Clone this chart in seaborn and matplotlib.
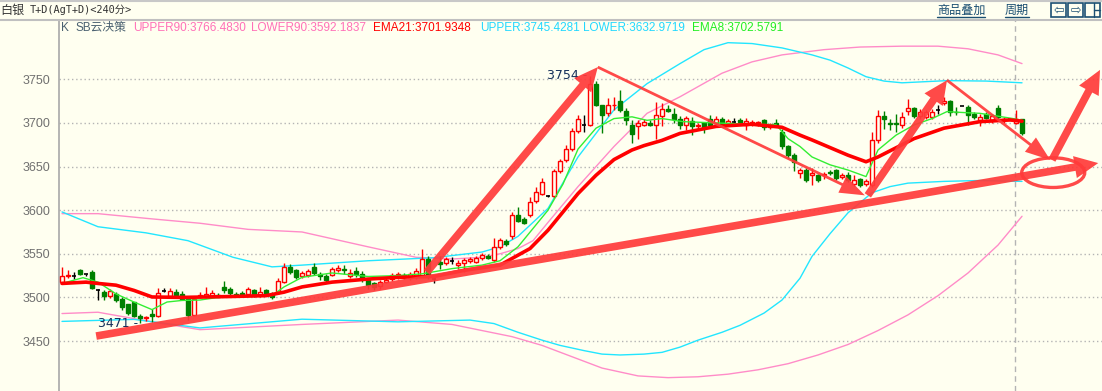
import numpy as np
import seaborn as sns
import matplotlib.pyplot as plt
from matplotlib.patches import Ellipse, Rectangle
from matplotlib.lines import Line2D

# ---- candle data (240 min bars) ----
opens = [3518, 3524, 3525, 3531, 3527, 3529, 3508, 3506, 3502, 3504,
         3498, 3492, 3495, 3479, 3476, 3481, 3479, 3507, 3502, 3506,
         3504, 3498, 3480, 3500, 3500, 3502, 3503, 3512, 3510, 3504,
         3505, 3504, 3509, 3503, 3508, 3504, 3506, 3518, 3535, 3531,
         3524, 3526, 3535, 3527, 3525, 3526, 3531, 3533, 3525, 3530,
         3527, 3520, 3516, 3513, 3518, 3521, 3523, 3526, 3522, 3525,
         3525, 3544, 3521, 3541, 3539, 3542, 3537, 3539, 3542, 3541,
         3545, 3548, 3543, 3558, 3565, 3570, 3595, 3590, 3594, 3610,
         3619, 3616, 3616, 3645, 3658, 3670, 3691, 3698, 3698, 3745,
         3721, 3711, 3720, 3725, 3714, 3698, 3696, 3698, 3700, 3698,
         3708, 3716, 3710, 3705, 3698, 3702, 3696, 3700, 3705, 3700,
         3705, 3698, 3701, 3703, 3698, 3699, 3700, 3703, 3695, 3700,
         3690, 3673, 3663, 3643, 3646, 3640, 3640, 3640, 3644, 3646,
         3638, 3640, 3630, 3636, 3630, 3629, 3681, 3708, 3700, 3700,
         3698, 3714, 3717, 3708, 3707, 3707, 3715, 3723, 3725, 3713,
         3719, 3718, 3710, 3703, 3710, 3703, 3717, 3703, 3704, 3700,
         3704]
highs = [3535, 3531, 3529, 3532, 3527, 3531, 3510, 3508, 3510, 3506,
         3500, 3493, 3495, 3481, 3479, 3487, 3511, 3511, 3511, 3510,
         3507, 3500, 3502, 3506, 3512, 3509, 3505, 3519, 3512, 3506,
         3507, 3512, 3510, 3512, 3510, 3506, 3522, 3539, 3538, 3533,
         3530, 3533, 3540, 3529, 3527, 3535, 3537, 3537, 3533, 3535,
         3530, 3522, 3518, 3520, 3522, 3528, 3529, 3528, 3529, 3534,
         3555, 3548, 3523, 3547, 3546, 3546, 3543, 3545, 3546, 3548,
         3551, 3550, 3568, 3568, 3567, 3598, 3604, 3592, 3615, 3626,
         3637, 3617, 3647, 3659, 3675, 3694, 3709, 3709, 3754, 3748,
         3721, 3729, 3730, 3738, 3717, 3703, 3703, 3705, 3703, 3724,
         3723, 3721, 3717, 3708, 3708, 3707, 3700, 3701, 3709, 3708,
         3707, 3704, 3706, 3706, 3706, 3703, 3702, 3705, 3700, 3705,
         3693, 3675, 3665, 3648, 3648, 3648, 3642, 3644, 3646, 3647,
         3643, 3644, 3640, 3637, 3636, 3690, 3715, 3714, 3705, 3710,
         3712, 3728, 3718, 3716, 3715, 3716, 3720, 3730, 3726, 3718,
         3719, 3720, 3712, 3710, 3712, 3710, 3720, 3707, 3704, 3715,
         3705]
lows = [3516, 3522, 3521, 3526, 3524, 3510, 3497, 3497, 3499, 3495,
        3485, 3480, 3477, 3471, 3473, 3472, 3478, 3506, 3500, 3501,
        3497, 3474, 3479, 3499, 3499, 3500, 3500, 3505, 3503, 3500,
        3500, 3502, 3501, 3500, 3502, 3498, 3504, 3517, 3527, 3521,
        3522, 3523, 3526, 3520, 3518, 3524, 3529, 3527, 3522, 3523,
        3518, 3510, 3509, 3510, 3516, 3519, 3521, 3521, 3520, 3521,
        3523, 3521, 3516, 3533, 3537, 3538, 3532, 3529, 3540, 3539,
        3543, 3544, 3541, 3555, 3559, 3567, 3586, 3584, 3592, 3608,
        3617, 3615, 3614, 3643, 3655, 3668, 3689, 3690, 3696, 3719,
        3688, 3708, 3715, 3713, 3698, 3677, 3682, 3696, 3696, 3682,
        3696, 3712, 3700, 3693, 3692, 3686, 3693, 3689, 3695, 3698,
        3696, 3696, 3697, 3699, 3692, 3696, 3697, 3692, 3693, 3697,
        3670, 3660, 3645, 3637, 3632, 3629, 3632, 3636, 3640, 3635,
        3636, 3632, 3628, 3627, 3628, 3627, 3677, 3693, 3692, 3690,
        3694, 3709, 3706, 3705, 3705, 3704, 3710, 3721, 3708, 3709,
        3719, 3698, 3705, 3697, 3704, 3700, 3705, 3700, 3704, 3699,
        3686]
closes = [3525, 3526, 3525, 3527, 3527, 3511, 3508, 3502, 3507, 3497,
          3489, 3482, 3479, 3476, 3478, 3479, 3505, 3507, 3507, 3503,
          3498, 3480, 3498, 3503, 3504, 3505, 3501, 3509, 3505, 3502,
          3502, 3510, 3503, 3506, 3504, 3500, 3519, 3535, 3529, 3523,
          3528, 3530, 3528, 3524, 3520, 3532, 3534, 3531, 3528, 3527,
          3521, 3514, 3512, 3518, 3520, 3526, 3527, 3523, 3527, 3530,
          3544, 3525, 3521, 3538, 3544, 3542, 3540, 3543, 3544, 3545,
          3549, 3545, 3558, 3566, 3561, 3595, 3588, 3585, 3609, 3621,
          3632, 3616, 3645, 3656, 3670, 3691, 3705, 3698, 3745, 3721,
          3709, 3720, 3721, 3715, 3703, 3687, 3700, 3701, 3698, 3709,
          3716, 3714, 3705, 3698, 3706, 3697, 3698, 3694, 3698, 3705,
          3698, 3702, 3701, 3701, 3702, 3701, 3701, 3695, 3698, 3698,
          3673, 3663, 3655, 3646, 3635, 3643, 3635, 3642, 3643, 3637,
          3640, 3635, 3635, 3629, 3634, 3680, 3708, 3705, 3699, 3699,
          3707, 3717, 3708, 3713, 3712, 3713, 3715, 3725, 3713, 3712,
          3719, 3709, 3707, 3707, 3706, 3708, 3707, 3705, 3704, 3704,
          3689]

# ---- indicator lines, sampled at bar positions ----
ema21_x = [0, 4, 6, 9, 12, 15, 20, 28, 34, 37, 40, 45, 51, 56, 62, 67, 73, 78, 81,
           86, 89, 92, 95, 97, 100, 103, 109, 115, 120, 123, 125, 131, 134, 136,
           142, 147, 153, 158, 160]
ema21_v = [3516, 3517.5, 3516, 3514, 3508, 3500.5, 3500, 3501, 3502, 3506, 3512,
           3517.5, 3521, 3523, 3524, 3531, 3537, 3556, 3577, 3619, 3640, 3658,
           3669, 3674, 3680, 3688, 3696, 3698.5, 3695, 3686, 3680.5, 3663, 3655.5,
           3661, 3682, 3694, 3701.5, 3703.4, 3702]
ema8_x = [0, 3.5, 6, 9, 12, 15, 17.5, 20, 23, 26, 31, 35, 37, 40, 45, 51, 56, 60,
          65, 70, 73, 76, 78.5, 81, 83.5, 86, 89, 92, 95, 97.5, 100, 103.5, 109,
          115, 119, 121, 123, 125, 128, 131, 134, 136, 139, 142, 145, 147.5, 150,
          153, 158.5, 160]
ema8_v = [3516, 3522.6, 3517.5, 3504, 3494.7, 3486, 3494.7, 3496.5, 3497, 3500,
          3502, 3502, 3512, 3523, 3528, 3524, 3525, 3527, 3533, 3537, 3542, 3558,
          3579, 3600, 3630, 3670, 3694, 3705, 3707, 3703, 3705, 3701.5, 3700,
          3698.5, 3698, 3682, 3673, 3661, 3652, 3646, 3638.5, 3669, 3686, 3697.7,
          3705, 3713, 3712, 3711, 3705, 3703]
upper_x = [0, 6, 14, 21, 28.5, 35, 40, 51, 62, 70, 73, 76, 78.5, 81, 86, 92, 97.5,
           103, 107, 111, 115, 120, 125, 128, 131, 134, 137, 140, 147.5, 154, 160]
upper_v = [3598, 3581, 3574, 3565, 3546, 3535, 3537, 3542, 3545.5, 3552, 3558,
           3570, 3586, 3602, 3661, 3715, 3745, 3768, 3784, 3792, 3791, 3786, 3778,
           3772, 3763, 3753, 3748, 3746, 3748.5, 3748, 3746]
lower_x = [0, 12, 23, 40, 56, 68, 72, 76, 80, 83, 87, 90, 93, 97, 100, 103, 106,
           110, 113, 117, 120, 123, 125, 128, 131, 135, 138, 141, 147, 153, 160]
lower_v = [3472.5, 3474.8, 3465, 3475, 3472, 3474, 3470, 3460, 3451, 3445, 3439,
           3435, 3434, 3435, 3437, 3443, 3451, 3460, 3468, 3482, 3497, 3522, 3547,
           3573, 3597, 3620, 3627, 3631, 3633, 3634, 3633]
upper90_x = [0, 6, 15, 23, 31, 40, 51, 59, 65, 70, 73, 76, 78.5, 81, 86, 92, 97.5,
             103, 110, 115, 120, 127, 133, 140, 146, 151, 156, 160]
upper90_v = [3596, 3596, 3590, 3585, 3578, 3575, 3558, 3546, 3544, 3546, 3550,
             3556, 3565, 3586, 3627, 3673, 3711, 3730, 3757, 3770, 3778, 3784,
             3787, 3788, 3788, 3785, 3778, 3768]
lower90_x = [0, 6, 15, 23, 40, 56, 65, 70, 75, 80, 85, 90, 96, 101, 106, 111, 116,
             121, 126, 131, 136, 141, 146, 151, 156, 160]
lower90_v = [3481.5, 3483, 3472, 3463, 3469, 3474, 3469, 3462, 3455, 3445, 3432,
             3419, 3410, 3408, 3409, 3412, 3417, 3424, 3434, 3446, 3462, 3480,
             3502, 3528, 3560, 3593]

yticks = [3450, 3500, 3550, 3600, 3650, 3700, 3750]

BG = '#fffff0'
RED = '#ff0000'
GREEN = '#008000'
ARROW = '#ff3a3a'

sns.set_theme(style="white")
plt.rcParams['font.family'] = ['Liberation Sans', 'Noto Sans CJK SC', 'DejaVu Sans']

W, H = 1102, 391
fig = plt.figure(figsize=(W / 100, H / 100), dpi=100, facecolor=BG)
ax = fig.add_axes([59 / W, 0, 1 - 59 / W, (H - 20) / H])
ax.set_facecolor(BG)
ax.set_xlim(-0.5, 173.33)
ax.set_ylim(3392.7, 3818)

# grid + axis
for v in yticks:
    ax.axhline(v, color='#b4b4b4', lw=1, ls=(0, (1, 2)), zorder=0)
ax.axvline(158.75, color='#b4b4b4', lw=1, ls=(0, (4, 3)), zorder=0)
for s in ['top', 'right', 'bottom']:
    ax.spines[s].set_visible(False)
ax.spines['left'].set_color('#a8a8a8')
ax.spines['left'].set_linewidth(1.2)
ax.set_xticks([])
ax.set_yticks(yticks)
ax.set_yticklabels([str(v) for v in yticks])
ax.tick_params(axis='y', length=0, pad=6, labelsize=9, labelcolor='#707070')

# bands and moving averages
sns.lineplot(x=upper90_x, y=upper90_v, ax=ax, color='#ff8cc8', lw=1, zorder=2)
sns.lineplot(x=lower90_x, y=lower90_v, ax=ax, color='#ff8cc8', lw=1, zorder=2)
sns.lineplot(x=upper_x, y=upper_v, ax=ax, color='#22e6ff', lw=1, zorder=2)
sns.lineplot(x=lower_x, y=lower_v, ax=ax, color='#22e6ff', lw=1, zorder=2)

# candles
idx = np.arange(len(opens))
o = np.array(opens); c = np.array(closes); hi = np.array(highs); lo = np.array(lows)
up = c > o
dn = c < o
dj = c == o
bw = 0.78
ax.vlines(idx[up], lo[up], hi[up], color=RED, lw=1, zorder=3)
ax.vlines(idx[dn], lo[dn], hi[dn], color=GREEN, lw=1, zorder=3)
ax.vlines(idx[dj], lo[dj], hi[dj], color='black', lw=1, zorder=3)
ax.bar(idx[up], c[up] - o[up], bottom=o[up], width=bw, facecolor=BG,
       edgecolor=RED, lw=1, zorder=4)
ax.bar(idx[dn], o[dn] - c[dn], bottom=c[dn], width=bw, facecolor=GREEN,
       edgecolor=GREEN, lw=1, zorder=4)
ax.hlines(c[dj], idx[dj] - bw / 2, idx[dj] + bw / 2, color='black', lw=1.2, zorder=4)

sns.lineplot(x=ema8_x, y=ema8_v, ax=ax, color='#33ee33', lw=1, zorder=5)
sns.lineplot(x=ema21_x, y=ema21_v, ax=ax, color=RED, lw=2.6, zorder=5)

# extreme labels
ax.text(87.6, 3754, '3754 -', ha='right', va='center', fontsize=9,
        color='#15305a', family='DejaVu Sans', zorder=6)
ax.text(12.7, 3470, '3471 -', ha='right', va='center', fontsize=9,
        color='#15305a', family='DejaVu Sans', zorder=6)

# hand drawn arrows
fat = 'simple,head_length=1.7,head_width=1.6,tail_width=0.55'
thin = 'simple,head_length=1.8,head_width=1.3,tail_width=0.2'
arrows = [((5.7, 3455.7), (172.7, 3654), fat),
          ((60.8, 3529), (89.3, 3764), fat),
          ((89.3, 3764), (133.8, 3617), thin),
          ((134.3, 3617), (147.5, 3749), fat),
          ((147.5, 3749), (164.7, 3657.6), thin),
          ((165.0, 3657.6), (173.0, 3760.8), fat)]
for start, end, style in arrows:
    ax.annotate('', xy=end, xytext=start,
                arrowprops=dict(arrowstyle=style, mutation_scale=10, color=ARROW,
                                alpha=0.92, shrinkA=0, shrinkB=0, lw=0),
                zorder=7, annotation_clip=False)
ax.add_patch(Ellipse((165.2, 3643), 10.5, 34, fill=False, edgecolor=ARROW,
                     lw=2.4, alpha=0.92, zorder=7))

# legend line
cjk = ['Noto Sans CJK SC', 'DejaVu Sans']
legend_items = [(61, 'K', '#4a6070'), (75, 'SB云决策', '#4a6070'),
                (133, 'UPPER90:3766.4830', '#ff70b8'),
                (251, 'LOWER90:3592.1837', '#ff70b8'),
                (373, 'EMA21:3701.9348', '#ff0000'),
                (480, 'UPPER:3745.4281', '#22d8ff'),
                (583, 'LOWER:3632.9719', '#22d8ff'),
                (692, 'EMA8:3702.5791', '#22ee22')]
for px, txt, col in legend_items:
    fig.text(px / W, 1 - 28 / H, txt, color=col, fontsize=8.5, va='center',
             ha='left', family=['Liberation Sans', 'Noto Sans CJK SC'])

# header bar
fig.add_artist(Line2D([0, 1], [1 - 19.5 / H] * 2, color='#c0c0c0', lw=1.5))
fig.add_artist(Line2D([0, 1], [1 - 0.5 / H] * 2, color='#c8c8c8', lw=1.5))
fig.text(0 / W, 1 - 10 / H, '白银', fontsize=8.7, color='#333333', va='center', family=cjk)
fig.text(30 / W, 1 - 10 / H, 'T+D(AgT+D)<240分>', fontsize=7.4, color='#333333',
         va='center', family=['DejaVu Sans Mono', 'Noto Sans CJK SC'])
for px, txt in [(937, '商品叠加'), (1005, '周期')]:
    fig.text(px / W, 1 - 10 / H, txt, fontsize=8.7, color='#1b4f72', va='center',
             family=cjk)
fig.add_artist(Line2D([937 / W, 985 / W], [1 - 16.5 / H] * 2, color='#1b4f72', lw=1))
fig.add_artist(Line2D([1005 / W, 1029 / W], [1 - 16.5 / H] * 2, color='#1b4f72', lw=1))
for k, glyph in enumerate(['⇦', '⇨', '']):
    x0 = 1051 + k * 17
    fig.add_artist(Rectangle((x0 / W, 1 - 17 / H), 15 / W, 14 / H, fill=False,
                             edgecolor='#1b4f72', lw=1.2))
    if glyph:
        fig.text((x0 + 7.5) / W, 1 - 10 / H, glyph, fontsize=9, color='#1b4f72',
                 ha='center', va='center', family='DejaVu Sans')
fig.add_artist(Line2D([(1085 + 9) / W] * 2, [1 - 17 / H, 1 - 3 / H], color='#1b4f72', lw=1))
fig.add_artist(Line2D([(1094) / W, 1100 / W], [1 - 10 / H] * 2, color='#1b4f72', lw=1))

fig.savefig('out.png', dpi=100, facecolor=BG)
